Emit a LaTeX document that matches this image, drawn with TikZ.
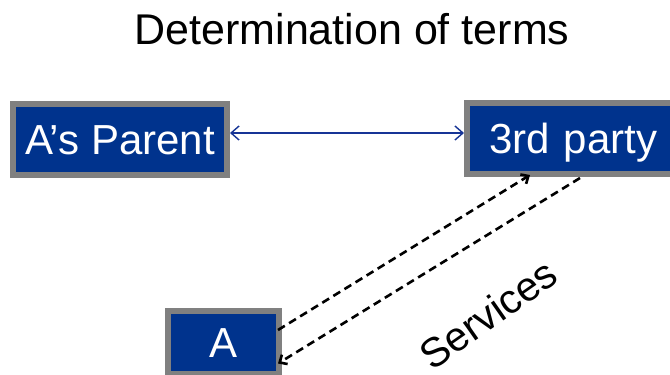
\documentclass[tikz,border=0pt]{standalone}
\usepackage{fontspec}
\setmainfont{Liberation Sans}
\usetikzlibrary{arrows.meta}
\definecolor{boxblue}{RGB}{0,51,141}
\definecolor{boxgray}{RGB}{128,128,128}
\definecolor{linkblue}{RGB}{22,52,150}
\tikzset{
  party/.style={draw=boxgray, line width=6pt, fill=boxblue, text=white,
    inner sep=0pt, font=\fontsize{42}{42}\selectfont,
    text height=29.5pt, text depth=0pt},
  agreement/.style={draw=linkblue, line width=1.4pt,
    {Straight Barb[length=8pt,width=14pt]}-{Straight Barb[length=8pt,width=14pt]}},
  service/.style={draw=black, line width=2.6pt, dash pattern=on 8pt off 5pt,
    -{Straight Barb[length=6pt,width=11pt]}}
}
\begin{document}
\begin{tikzpicture}[x=1pt,y=-1pt]
  \clip (0,0) rectangle (670,375);
  \fill[white] (0,0) rectangle (670,375);

  % title
  \node[anchor=base, font=\fontsize{43}{43}\selectfont] (title) at (352,44) {Determination of terms};

  % the three parties; the third party's box runs on past the right edge
  \node[party, minimum width=214pt, minimum height=71pt] (parent) at (120,139.5) {A’s Parent};
  \node[party, minimum width=250pt, minimum height=71.5pt,
        text width=206pt, align=left] (third) at (592,138.25) {3rd party};
  \node[party, minimum width=111pt, minimum height=63pt] (a) at (223.5,342.5) {A};

  % agreement between parent and third party
  \coordinate (pe) at ([yshift=6.5pt]parent.east);
  \draw[agreement] (pe) -- (pe -| third.west);

  % services flowing both ways
  \draw[service] ([xshift=-4pt,yshift=12.5pt]a.east) -- ([xshift=-62pt,yshift=2pt]third.south);
  \draw[service] ([xshift=-12pt,yshift=-1pt]third.south) -- ([xshift=-4pt,yshift=-21pt]a.east);

  \node[rotate=35, inner sep=0pt, font=\fontsize{41}{41}\selectfont] (svc) at (488,314) {Services};
\end{tikzpicture}
\end{document}
